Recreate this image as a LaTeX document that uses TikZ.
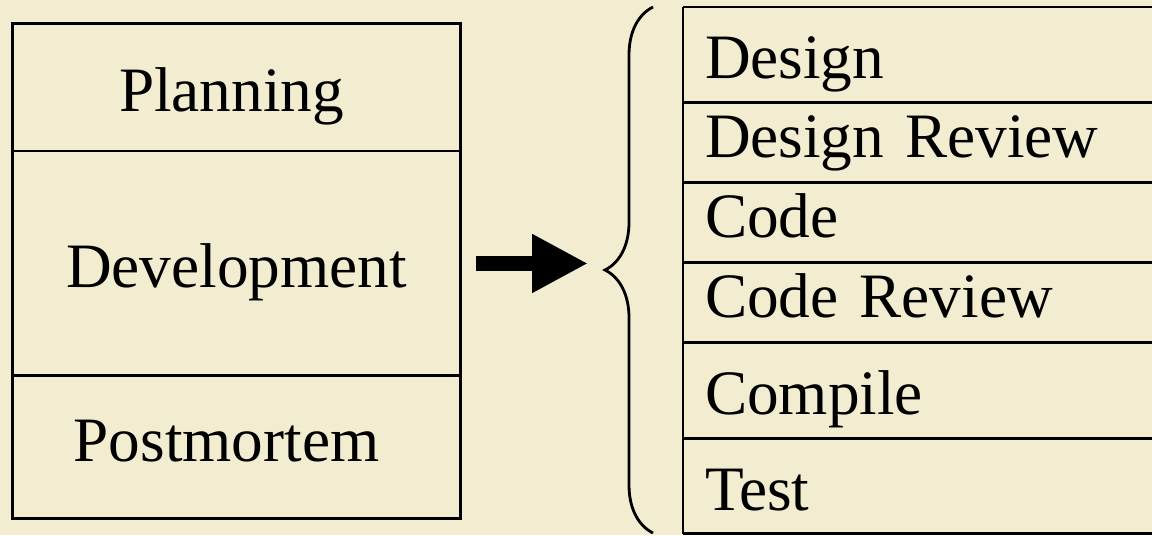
\documentclass[tikz,border=0pt]{standalone}
\usepackage{fontspec}
\setmainfont{Liberation Serif}
\usepackage{tikz}
\usetikzlibrary{arrows.meta,decorations.pathreplacing,positioning}
\definecolor{creambg}{RGB}{242,237,208}
\tikzset{
  bigtext/.style={font=\fontsize{36pt}{43pt}\selectfont},
  phase/.style={bigtext,draw,line width=1.7pt,outer sep=0pt,minimum width=8.98cm,text height=0.96cm,text depth=0cm},
  steprow/.style={bigtext,outer sep=0pt,inner xsep=0.44cm,text width=8.6cm,align=left,text height=0.96cm,text depth=0cm},
  shortrow/.style={steprow,text height=0.6cm},
  rowline/.style={line width=1.7pt},
  bigarrow/.style={line width=0.3cm,-{Triangle[length=1.12cm,width=1.1cm]},shorten <=0.3cm,shorten >=0.34cm}
}
\begin{document}
\begin{tikzpicture}[x=0.02cm,y=-0.02cm]
\fill[creambg] (0,0) rectangle (1152,535);
\useasboundingbox (0,0) rectangle (1152,535);
\clip (0,0) rectangle (1152,535);
% process phases
\node[phase,minimum height=2.56cm] (plan) at (236.5,87) {\hspace*{-0.2cm}Planning};
\node[phase,minimum height=4.5cm,below=0pt of plan] (dev) {Development};
\node[phase,minimum height=2.86cm,text height=0.58cm,below=0pt of dev] (post) {\hspace*{-0.4cm}Postmortem};
% development steps
\node[steprow,minimum height=1.92cm,anchor=north west] (design) at (683,7) {Design};
\node[shortrow,minimum height=1.6cm,below=0pt of design] (desrev) {Design Review};
\node[shortrow,minimum height=1.6cm,below=0pt of desrev] (code) {Code};
\node[shortrow,minimum height=1.6cm,below=0pt of code] (coderev) {Code Review};
\node[steprow,minimum height=1.92cm,below=0pt of coderev] (compile) {Compile};
\node[steprow,minimum height=1.9cm,below=0pt of compile] (test) {Test};
\draw[rowline] (design.north west) -- (design.north east);
\foreach \r in {design,desrev,code,coderev,compile,test}
  \draw[rowline] (\r.south west) -- (\r.south east);
\draw[line width=0.75pt] (design.north west) -- (test.south west);
% brace and arrow
\coordinate (tip) at (605,270);
\draw[line width=1.6pt,decorate,decoration={brace,amplitude=0.96cm}] (653,533) -- (653,7);
\draw[bigarrow] (dev.east) -- (dev.east -| tip);
\end{tikzpicture}
\end{document}
